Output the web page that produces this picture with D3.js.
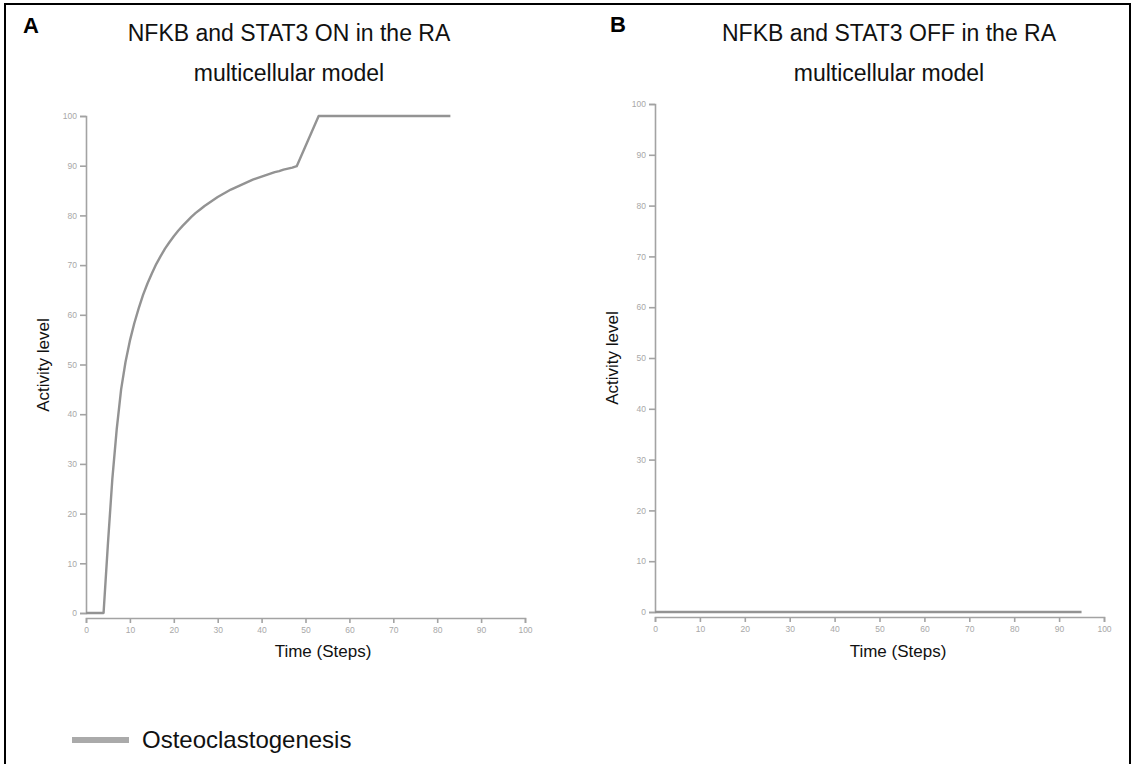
<!DOCTYPE html>
<html>
<head>
<meta charset="utf-8">
<script src="https://cdn.jsdelivr.net/npm/d3@7"></script>
<style>
  html, body { margin: 0; padding: 0; background: #fff; }
  svg { display: block; font-family: "Liberation Sans", Arial, sans-serif; }
</style>
</head>
<body>
<svg id="chart" width="1135" height="764"></svg>
<script>
// ---- Data ----
const seriesName = "Osteoclastogenesis";
const panelLetters = ["A", "B"];
const panelTitles = [
  ["NFKB and STAT3 ON in the RA", "multicellular model"],
  ["NFKB and STAT3 OFF in the RA", "multicellular model"]
];
const xTicks = [0, 10, 20, 30, 40, 50, 60, 70, 80, 90, 100];
const yTicks = [0, 10, 20, 30, 40, 50, 60, 70, 80, 90, 100];

// Panel A: NFKB and STAT3 ON
const timeA = [0, 1, 2, 3, 4, 5, 6, 7, 8, 9, 10, 11, 12, 13, 14, 15, 16, 17, 18, 19, 20,
  21, 22, 23, 24, 25, 26, 27, 28, 29, 30, 31, 32, 33, 34, 35, 36, 37, 38, 39, 40,
  41, 42, 43, 44, 45, 46, 47, 48, 53, 60, 70, 83];
const valuesA = [0, 0, 0, 0, 0, 14, 27, 37, 45, 50.5, 54.8, 58.3, 61.3, 64, 66.3, 68.3, 70.2, 71.8, 73.3, 74.6, 75.8,
  76.9, 77.9, 78.8, 79.7, 80.5, 81.2, 81.9, 82.5, 83.1, 83.7, 84.2, 84.7, 85.2, 85.6, 86.0, 86.4, 86.8, 87.2, 87.5, 87.8,
  88.1, 88.4, 88.7, 88.9, 89.2, 89.4, 89.6, 89.9, 100, 100, 100, 100];

// Panel B: NFKB and STAT3 OFF
const timeB = [0, 10, 20, 30, 40, 50, 60, 70, 80, 90, 95];
const valuesB = [0, 0, 0, 0, 0, 0, 0, 0, 0, 0, 0];

// ---- Drawing ----
const svg = d3.select("#chart");
const lineColor = "#939393";
const axisColor = "#a3a3a3";
const tickTextColor = "#a8a8a8";

// frame
svg.append("rect")
  .attr("x", 5).attr("y", 4)
  .attr("width", 1125).attr("height", 800)
  .attr("fill", "none").attr("stroke", "#000").attr("stroke-width", 2);

const panels = [
  { x0: 86, x1: 525, yTop: 116, yBot: 613, xAxisY: 618, letterX: 23, letterY: 33, titleX: 289, ylabX: 49, ylabY: 365, xlabX: 323, xlabY: 657,
    time: timeA, values: valuesA },
  { x0: 655, x1: 1104, yTop: 104, yBot: 612, xAxisY: 617, letterX: 610, letterY: 32, titleX: 889, ylabX: 618, ylabY: 358, xlabX: 898, xlabY: 657,
    time: timeB, values: valuesB }
];

panels.forEach((p, i) => {
  const g = svg.append("g");
  const x = d3.scaleLinear().domain([0, 100]).range([p.x0, p.x1]);
  const y = d3.scaleLinear().domain([0, 100]).range([p.yBot, p.yTop]);

  // letter
  g.append("text").attr("x", p.letterX).attr("y", p.letterY)
    .attr("font-size", 22).attr("font-weight", "bold").attr("fill", "#000")
    .text(panelLetters[i]);

  // title
  panelTitles[i].forEach((t, k) => {
    g.append("text").attr("x", p.titleX).attr("y", 41 + k * 40)
      .attr("text-anchor", "middle").attr("font-size", 23).attr("fill", "#111")
      .text(t);
  });

  // y axis
  const ya = g.append("g").attr("transform", `translate(${p.x0},0)`)
    .call(d3.axisLeft(y).tickValues(yTicks).tickSize(6).tickPadding(3));
  // x axis
  const xa = g.append("g").attr("transform", `translate(0,${p.xAxisY})`)
    .call(d3.axisBottom(x).tickValues(xTicks).tickSize(5).tickPadding(4));

  [ya, xa].forEach(a => {
    a.selectAll("path, line").attr("stroke", axisColor).attr("stroke-width", 1.6);
    a.selectAll("text").attr("fill", tickTextColor).attr("font-size", 8.5)
      .attr("font-family", "Liberation Sans, Arial, sans-serif");
  });

  // axis labels
  g.append("text")
    .attr("transform", `translate(${p.ylabX},${p.ylabY}) rotate(-90)`)
    .attr("text-anchor", "middle").attr("font-size", 17).attr("fill", "#111")
    .text("Activity level");
  g.append("text").attr("x", p.xlabX).attr("y", p.xlabY)
    .attr("text-anchor", "middle").attr("font-size", 17).attr("fill", "#111")
    .text("Time (Steps)");

  // series line
  const data = p.time.map((t, j) => ({ t, v: p.values[j] }));
  g.append("path").datum(data)
    .attr("fill", "none").attr("stroke", lineColor).attr("stroke-width", 2.4)
    .attr("stroke-linejoin", "round")
    .attr("d", d3.line().x(d => x(d.t)).y(d => y(d.v)));
});

// legend
svg.append("line").attr("x1", 72).attr("x2", 129).attr("y1", 740).attr("y2", 740)
  .attr("stroke", "#aaaaaa").attr("stroke-width", 6);
svg.append("text").attr("x", 142).attr("y", 748).attr("font-size", 24).attr("fill", "#111")
  .text(seriesName);
</script>
</body>
</html>
